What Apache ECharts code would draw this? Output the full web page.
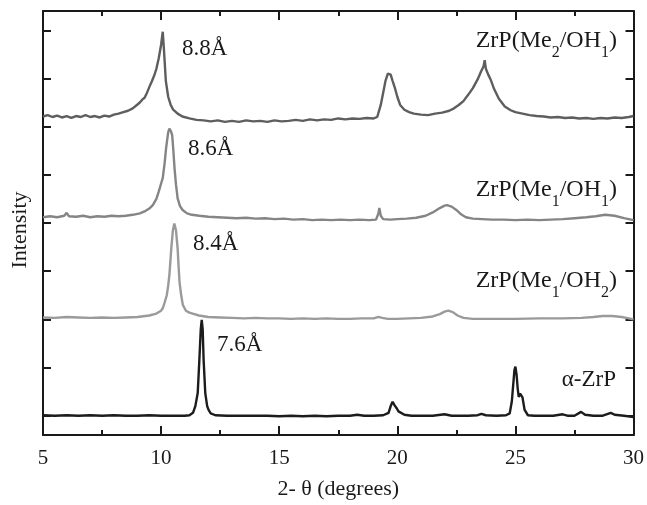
<!DOCTYPE html>
<html>
<head>
<meta charset="utf-8">
<script src="https://cdn.jsdelivr.net/npm/echarts@6/dist/echarts.min.js"></script>
<style>
  html, body { margin: 0; padding: 0; background: #fff; }
  #main { width: 647px; height: 505px; }
</style>
</head>
<body>
<div id="main"></div>
<script>
// x axis: 2-theta in degrees
const xTicks = [5, 10, 15, 20, 25, 30];
// y axis tick positions (no labels in the original)
const yTicks = [0, 1, 2, 3, 4, 5, 6, 7, 8];

// curves, already stacked as drawn: [2theta, intensity]
const me2oh1 = [
  [5.0,6.21],[5.2,6.24],[5.4,6.20],[5.6,6.23],[5.8,6.19],[6.0,6.22],[6.2,6.18],[6.4,6.22],
  [6.6,6.20],[6.8,6.24],[7.0,6.20],[7.2,6.22],[7.4,6.19],[7.6,6.23],[7.8,6.21],[8.0,6.25],
  [8.2,6.27],[8.4,6.30],[8.6,6.33],[8.8,6.38],[9.0,6.46],[9.1,6.50],[9.2,6.56],[9.3,6.60],
  [9.4,6.70],[9.5,6.82],[9.6,6.93],[9.7,7.05],[9.8,7.20],[9.9,7.42],[10.0,7.70],[10.07,7.97],
  [10.12,7.60],[10.2,6.95],[10.3,6.62],[10.4,6.46],[10.5,6.36],[10.7,6.27],[10.9,6.21],
  [11.2,6.17],[11.5,6.14],[11.8,6.13],[12.1,6.11],[12.4,6.13],[12.7,6.10],[13.0,6.12],
  [13.3,6.10],[13.6,6.13],[13.9,6.11],[14.2,6.12],[14.5,6.10],[14.8,6.13],[15.1,6.11],
  [15.4,6.12],[15.7,6.14],[16.0,6.12],[16.3,6.15],[16.6,6.13],[16.9,6.15],[17.2,6.14],
  [17.5,6.17],[17.8,6.15],[18.1,6.17],[18.4,6.16],[18.7,6.18],[19.0,6.17],[19.15,6.20],
  [19.3,6.45],[19.4,6.70],[19.5,6.95],[19.6,7.10],[19.66,7.14],[19.72,7.08],[19.8,6.95],
  [19.9,6.80],[20.0,6.62],[20.12,6.45],[20.3,6.35],[20.5,6.30],[20.7,6.27],[21.0,6.25],
  [21.3,6.24],[21.6,6.27],[21.9,6.29],[22.2,6.33],[22.4,6.38],[22.6,6.45],[22.8,6.53],
  [23.0,6.66],[23.2,6.80],[23.4,6.98],[23.55,7.15],[23.65,7.25],[23.7,7.38],[23.75,7.20],
  [23.85,7.08],[23.95,6.98],[24.1,6.78],[24.3,6.58],[24.55,6.42],[24.8,6.34],[25.0,6.30],
  [25.3,6.27],[25.6,6.24],[25.9,6.22],[26.2,6.21],[26.5,6.19],[26.8,6.20],[27.1,6.18],
  [27.4,6.19],[27.7,6.17],[28.0,6.18],[28.3,6.16],[28.6,6.18],[28.9,6.17],[29.2,6.19],
  [29.5,6.18],[29.8,6.20],[30.0,6.22]
];
const me1oh1 = [
  [5.0,4.12],[5.3,4.14],[5.6,4.12],[5.9,4.15],[6.0,4.21],[6.1,4.14],[6.4,4.13],[6.7,4.15],
  [7.0,4.12],[7.3,4.14],[7.6,4.13],[7.9,4.15],[8.2,4.14],[8.5,4.15],[8.8,4.17],[9.1,4.20],
  [9.3,4.24],[9.5,4.30],[9.65,4.37],[9.8,4.50],[9.9,4.65],[10.0,4.82],[10.07,4.93],
  [10.15,5.25],[10.21,5.55],[10.3,5.88],[10.35,5.96],[10.42,5.90],[10.47,5.82],[10.52,5.50],
  [10.57,5.13],[10.63,4.80],[10.70,4.51],[10.8,4.35],[10.91,4.27],[11.1,4.20],[11.3,4.17],
  [11.62,4.15],[12.0,4.13],[12.4,4.12],[12.8,4.11],[13.2,4.10],[13.6,4.11],[14.0,4.09],
  [14.4,4.10],[14.8,4.08],[15.2,4.09],[15.6,4.07],[16.0,4.08],[16.4,4.06],[16.8,4.07],
  [17.2,4.06],[17.6,4.07],[18.0,4.06],[18.4,4.07],[18.8,4.06],[19.1,4.07],[19.2,4.20],
  [19.24,4.31],[19.3,4.15],[19.4,4.08],[19.7,4.07],[20.0,4.08],[20.4,4.09],[20.8,4.11],
  [21.2,4.15],[21.5,4.22],[21.8,4.31],[22.0,4.36],[22.1,4.37],[22.3,4.34],[22.5,4.27],
  [22.7,4.18],[22.9,4.12],[23.2,4.09],[23.6,4.08],[24.0,4.07],[24.5,4.07],[25.0,4.06],
  [25.5,4.07],[26.0,4.06],[26.5,4.07],[27.0,4.08],[27.5,4.10],[28.0,4.12],[28.4,4.14],
  [28.8,4.17],[29.2,4.15],[29.6,4.10],[30.0,4.06]
];
const me1oh2 = [
  [5.0,2.04],[5.5,2.03],[6.0,2.05],[6.5,2.04],[7.0,2.03],[7.5,2.04],[8.0,2.03],[8.5,2.04],
  [9.0,2.05],[9.5,2.08],[9.8,2.12],[10.0,2.18],[10.07,2.23],[10.15,2.35],[10.24,2.50],
  [10.3,2.70],[10.35,2.92],[10.40,3.25],[10.43,3.47],[10.50,3.85],[10.56,3.99],[10.63,3.85],
  [10.70,3.47],[10.74,3.10],[10.78,2.78],[10.85,2.50],[10.92,2.30],[11.05,2.18],[11.2,2.14],
  [11.34,2.12],[11.6,2.08],[12.0,2.05],[12.5,2.04],[13.0,2.03],[13.5,2.02],[14.0,2.03],
  [14.5,2.02],[15.0,2.02],[15.5,2.01],[16.0,2.02],[16.5,2.01],[17.0,2.02],[17.5,2.01],
  [18.0,2.01],[18.5,2.02],[19.0,2.02],[19.2,2.05],[19.28,2.08],[19.36,2.03],[19.6,2.01],
  [20.0,2.01],[20.5,2.02],[21.0,2.03],[21.5,2.06],[21.8,2.11],[22.0,2.16],[22.16,2.18],
  [22.35,2.15],[22.55,2.08],[22.8,2.03],[23.2,2.01],[24.0,2.01],[25.0,2.01],[26.0,2.02],
  [27.0,2.02],[27.8,2.03],[28.3,2.05],[28.7,2.07],[29.1,2.07],[29.5,2.05],[29.8,2.02],
  [30.0,2.00]
];
const alphaZrP = [
  [5.0,0.01],[5.5,0.00],[6.0,0.01],[6.5,0.00],[7.0,0.01],[7.5,0.00],[8.0,0.01],[8.5,0.00],
  [9.0,0.00],[9.5,0.01],[10.0,0.00],[10.5,0.00],[11.0,0.00],[11.2,0.01],[11.35,0.06],
  [11.45,0.20],[11.55,0.47],[11.62,1.16],[11.68,1.80],[11.72,1.99],[11.76,1.80],[11.80,1.16],
  [11.87,0.47],[11.95,0.20],[12.01,0.12],[12.1,0.05],[12.3,0.01],[12.8,0.00],[13.5,0.00],
  [14.0,0.00],[14.5,0.00],[15.0,-0.01],[15.5,0.00],[16.0,-0.01],[16.5,0.00],[17.0,-0.01],
  [17.5,0.00],[18.0,0.00],[18.3,0.02],[18.6,0.00],[19.0,0.00],[19.4,0.01],[19.63,0.06],
  [19.72,0.20],[19.80,0.29],[19.88,0.22],[19.98,0.15],[20.05,0.09],[20.12,0.06],[20.3,0.02],
  [20.6,0.00],[21.0,0.00],[21.5,0.00],[22.0,0.03],[22.3,0.00],[23.0,0.00],[23.4,0.01],
  [23.56,0.04],[23.75,0.01],[24.2,0.00],[24.6,0.01],[24.76,0.05],[24.85,0.30],[24.90,0.60],
  [24.96,0.95],[25.00,1.02],[25.05,0.85],[25.10,0.55],[25.14,0.39],[25.20,0.46],[25.25,0.50],
  [25.30,0.38],[25.39,0.12],[25.53,0.01],[25.8,0.00],[26.2,0.00],[26.6,0.00],[27.0,0.03],
  [27.2,0.00],[27.5,0.00],[27.78,0.08],[27.95,0.02],[28.3,0.00],[28.7,0.00],[29.04,0.06],
  [29.2,0.02],[29.6,0.00],[30.0,-0.03]
];

const serif = 'Liberation Serif';
const ink = '#1a1a1a';

const chart = echarts.init(document.getElementById('main'));

// shared look of the frame axes
const xAxisBase = {
  type: 'value', min: 5, max: 30, interval: 5,
  axisLine: { onZero: false, lineStyle: { color: ink, width: 2 } },
  axisTick: { inside: true, length: 9, lineStyle: { color: ink, width: 2 } },
  minorTick: { show: true, splitNumber: 2, length: 5, lineStyle: { color: ink, width: 2 } },
  splitLine: { show: false }
};
const yAxisBase = {
  type: 'value', min: -0.4, max: 8.4,
  axisLine: { show: true, onZero: false, lineStyle: { color: ink, width: 2 } },
  axisTick: { show: true, inside: true, length: 8, customValues: yTicks, lineStyle: { color: ink, width: 2 } },
  axisLabel: { show: false },
  splitLine: { show: false }
};

function curve(name, data, color, width) {
  return {
    name: name, type: 'line', data: data,
    showSymbol: false, symbol: 'none', smooth: false,
    lineStyle: { color: color, width: width },
    z: 3
  };
}

const rich = {
  a: { fontFamily: serif, fontSize: 24, color: ink, lineHeight: 24, verticalAlign: 'top' },
  b: { fontFamily: serif, fontSize: 23, color: ink, lineHeight: 24, verticalAlign: 'top' },
  s: { fontFamily: serif, fontSize: 16, color: ink, lineHeight: 48 }
};
function label(text, x, y, align) {
  return {
    type: 'text', x: x, y: y, z: 10,
    style: {
      text: text, rich: rich, fill: ink,
      font: '23px "Liberation Serif"',
      align: align || 'left', verticalAlign: 'top'
    }
  };
}
function plain(text, x, y) {
  return {
    type: 'text', x: x, y: y, z: 10,
    style: { text: text, fill: ink, font: '23px "Liberation Serif"', align: 'left', verticalAlign: 'middle' }
  };
}

chart.setOption({
  animation: false,
  backgroundColor: '#fff',
  grid: { left: 43, right: 11, top: 11, bottom: 70 },
  xAxis: [
    Object.assign({}, xAxisBase, {
      position: 'bottom',
      axisLabel: { fontFamily: serif, fontSize: 21, color: ink, margin: 13,
        customValues: xTicks },
      name: '2- \u03b8 (degrees)', nameLocation: 'middle', nameGap: 43,
      nameTextStyle: { fontFamily: serif, fontSize: 22, color: ink }
    }),
    Object.assign({}, xAxisBase, { position: 'top', axisLabel: { show: false } })
  ],
  yAxis: [
    Object.assign({}, yAxisBase, { position: 'left' }),
    Object.assign({}, yAxisBase, { position: 'right' })
  ],
  series: [
    curve('ZrP(Me2/OH1)', me2oh1, '#5e5e5e', 2.4),
    curve('ZrP(Me1/OH1)', me1oh1, '#858585', 2.4),
    curve('ZrP(Me1/OH2)', me1oh2, '#9a9a9a', 2.4),
    curve('\u03b1-ZrP', alphaZrP, '#1c1c1c', 2.4)
  ],
  graphic: [
    plain('8.8\u00c5', 182, 49),
    plain('8.6\u00c5', 188, 149),
    plain('8.4\u00c5', 193, 244),
    plain('7.6\u00c5', 217, 345),
    label('{a|ZrP(Me}{s|2}{a|/OH}{s|1}{a|)}', 617, 29, 'right'),
    label('{a|ZrP(Me}{s|1}{a|/OH}{s|1}{a|)}', 617, 178, 'right'),
    label('{a|ZrP(Me}{s|1}{a|/OH}{s|2}{a|)}', 617, 269, 'right'),
    label('{b|\u03b1-ZrP}', 616, 368, 'right'),
    {
      type: 'text', x: 20, y: 230, rotation: Math.PI / 2, z: 10,
      style: { text: 'Intensity', fill: ink, font: '22px "Liberation Serif"', align: 'center', verticalAlign: 'middle' }
    }
  ]
});
</script>
</body>
</html>
